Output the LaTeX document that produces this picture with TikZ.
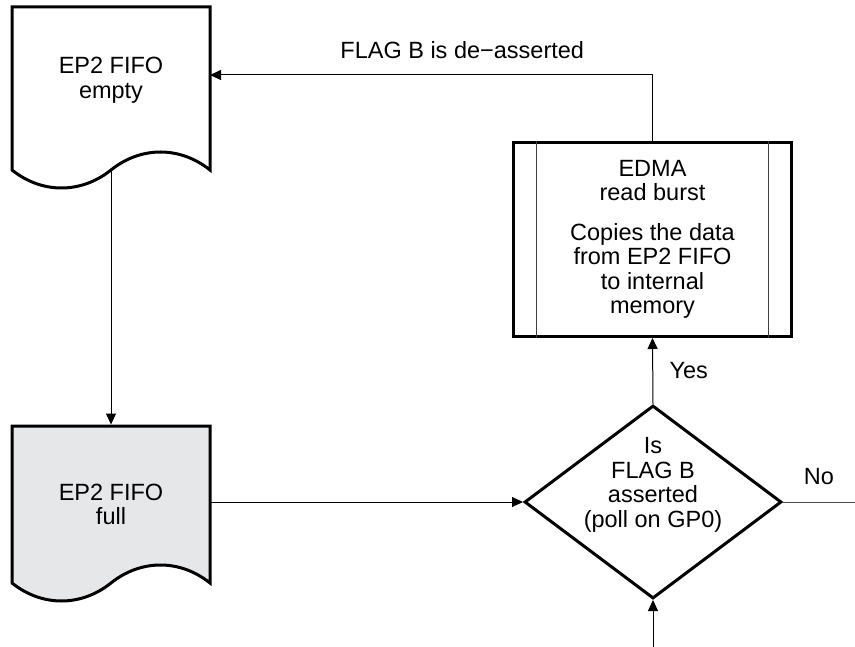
\documentclass[tikz,border=0pt]{standalone}
\usepackage{fontspec}
\setmainfont{Liberation Sans}
\usetikzlibrary{arrows.meta,shapes.geometric,positioning}
\definecolor{docgray}{RGB}{230,231,233}
\tikzset{
	docbox/.style={minimum width=198pt,inner sep=0pt,outer sep=0pt},
	shapeline/.style={line width=3pt,line join=miter},
	conn/.style={line width=1pt},
	txt/.style={align=center,inner sep=0pt}
}
\begin{document}
\begin{tikzpicture}[x=1pt,y=-1pt,>={Triangle[length=11pt,width=10pt]},
	font=\fontsize{23.5}{24.5}\selectfont]
	\useasboundingbox (0,0) rectangle (855,647);
	% the two FIFO documents
	\node[docbox,minimum height=163pt] (empty) at (111,88.5) {};
	\node[docbox,minimum height=157pt] (full) at (111,504.5) {};
	\foreach \n/\f in {empty/white,full/docgray}
	\filldraw[fill=\f,shapeline] (\n.south) .. controls +(-30,24) and +(30,24) .. (\n.south west)
	-- (\n.north west) -- (\n.north east) -- (\n.south east)
	.. controls +(-30,-24) and +(30,-24) .. (\n.south);
	\node[txt] (emptytxt) at ([yshift=8.5pt]empty) {EP2 FIFO\\empty};
	\node[txt] (fulltxt) at (full) {EP2 FIFO\\full};
	% EDMA box
	\node[draw,shapeline,minimum width=278pt,minimum height=194pt,txt] (edma) at (652.5,239.5)
	{EDMA\\read burst\\[15pt]Copies the data\\from EP2 FIFO\\to internal\\memory};
	\draw[black!75,line width=1pt] ([xshift=24.5pt]edma.north west) -- ([xshift=24.5pt]edma.south west)
	([xshift=-24.5pt]edma.north east) -- ([xshift=-24.5pt]edma.south east);
	% decision
	\node[draw,shapeline,diamond,inner sep=0pt,minimum width=257pt,minimum height=193pt] (flag) at (653,502) {};
	\node[txt] (flagtxt) at ([yshift=17pt]flag) {Is\\FLAG B\\asserted\\(poll on GP0)};
	\coordinate (noend) at (855,502);
	\coordinate (loopin) at (653,647);
	% connectors
	\draw[conn,->] (edma.north) |- ([yshift=13.5pt]empty.east)
	node[pos=.715,above=12pt,inner sep=3.33pt] (deassert) {FLAG B is de−asserted};
	\draw[conn,->] (empty.south) -- ([yshift=1.5pt]full.north);
	\draw[conn,->] (full.east |- flag.west) -- (flag.west);
	\draw[conn,->] (flag.north) -- node[right=13pt] (yes) {Yes} (edma.south);
	\draw[conn,black!70] (flag.east) -- node[above=13pt,black] (no) {No} (noend);
	\draw[conn,->] (loopin) -- (flag.south);
\end{tikzpicture}
\end{document}
